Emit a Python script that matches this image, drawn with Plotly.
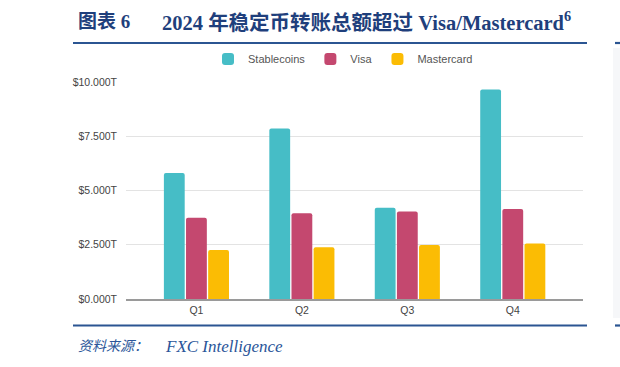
import plotly.graph_objects as go

quarters = ["Q1", "Q2", "Q3", "Q4"]
stablecoins = [5.81, 7.86, 4.20, 9.66]
visa = [3.74, 3.95, 4.03, 4.15]
mastercard = [2.26, 2.38, 2.49, 2.56]
y_ticks = [0, 2.5, 5, 7.5, 10]
y_tick_labels = ["$0.000T", "$2.500T", "$5.000T", "$7.500T", "$10.000T"]

W, H = 620, 367
L, R, T, B = 126, 37, 82, 68
PW, PH = W - L - R, H - T - B

def px(x):
    return (x - L) / PW

def py(y):
    return (H - B - y) / PH

fig = go.Figure()
fig.add_bar(name="Stablecoins", x=quarters, y=stablecoins, marker_color="#46bdc6")
fig.add_bar(name="Visa", x=quarters, y=visa, marker_color="#c4486f")
fig.add_bar(name="Mastercard", x=quarters, y=mastercard, marker_color="#fbbc04")

fig.update_traces(marker_line_width=0)

fig.update_layout(
    width=W, height=H,
    margin=dict(l=L, r=R, t=T, b=B, pad=0),
    paper_bgcolor="white", plot_bgcolor="white",
    barmode="group", bargap=0.37, bargroupgap=0.06, barcornerradius=2,
    font=dict(family="Arial, Liberation Sans, sans-serif", size=10.5, color="#444"),
    showlegend=True,
    legend=dict(orientation="h", x=px(208), xanchor="left", y=py(59), yanchor="middle",
                font=dict(size=11, color="#555"), bgcolor="rgba(0,0,0,0)",
                itemclick=False, tracegroupgap=0),
    xaxis=dict(range=[-0.668, 3.666], showgrid=False, showline=True, linecolor="#9a9a9a",
               linewidth=1.5, ticks="", ticklabelstandoff=1, fixedrange=True),
    yaxis=dict(range=[0, 10], tickmode="array", tickvals=y_ticks, ticktext=y_tick_labels,
               showgrid=True, gridcolor="#e3e3e3", gridwidth=1.2, zeroline=False,
               showline=False, ticks="", ticklabelstandoff=8, fixedrange=True),
)

title_color = "#1f3f7c"
line_color = "#2b5592"
shapes = [
    dict(type="line", xref="paper", yref="paper", x0=px(73), x1=px(587), y0=py(43), y1=py(43),
         line=dict(color=line_color, width=2.2)),
    dict(type="line", xref="paper", yref="paper", x0=px(73), x1=px(587), y0=py(325.5), y1=py(325.5),
         line=dict(color=line_color, width=2.2)),
    dict(type="rect", xref="paper", yref="paper", x0=px(613), x1=px(625), y0=py(318), y1=py(48),
         fillcolor="#f6f7f9", line=dict(width=0), layer="below"),
    dict(type="line", xref="paper", yref="paper", x0=px(615), x1=px(625), y0=py(43), y1=py(43),
         line=dict(color=line_color, width=2.2)),
    dict(type="line", xref="paper", yref="paper", x0=px(615), x1=px(625), y0=py(325.5), y1=py(325.5),
         line=dict(color=line_color, width=2.2)),
]
fig.update_layout(shapes=shapes)

serif = "Liberation Serif, Times New Roman, Noto Sans CJK SC, serif"
ann = [
    dict(text="<b>图表 6</b>", x=px(76), y=py(21), xanchor="left", yanchor="middle",
         font=dict(family=serif, size=19, color=title_color)),
    dict(text="<b>2024 年稳定币转账总额超过 Visa/Mastercard<sup>6</sup></b>", x=px(160), y=py(21),
         xanchor="left", yanchor="middle", font=dict(family=serif, size=20.5, color=title_color)),
    dict(text="<i>资料来源：</i>", x=px(76), y=py(346), xanchor="left", yanchor="middle",
         font=dict(family=serif, size=14, color="#2a5599")),
    dict(text="<i>FXC Intelligence</i>", x=px(163), y=py(346), xanchor="left", yanchor="middle",
         font=dict(family=serif, size=17, color="#2a5599")),
]
for a in ann:
    a.update(xref="paper", yref="paper", showarrow=False)
fig.update_layout(annotations=ann)

fig.write_html("out.html", config={"displayModeBar": False})
